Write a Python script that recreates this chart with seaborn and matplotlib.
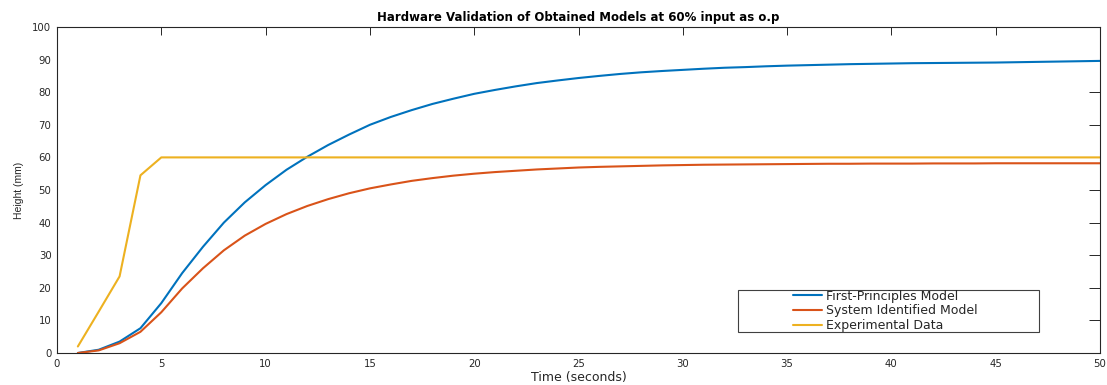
import numpy as np
import pandas as pd
import matplotlib
matplotlib.use("Agg")
import matplotlib.pyplot as plt
from matplotlib.patches import Rectangle
import seaborn as sns

time = list(range(1, 51))
first_principles = [0.0, 1.0, 3.5, 7.6, 15.3, 24.5, 32.6, 40.0, 46.2, 51.5,
                    56.2, 60.2, 63.8, 67.0, 70.0, 72.4, 74.5, 76.4, 78.0, 79.5,
                    80.7, 81.8, 82.8, 83.6, 84.35, 85.0, 85.6, 86.1, 86.5, 86.85,
                    87.2, 87.5, 87.7, 87.95, 88.15, 88.3, 88.45, 88.6, 88.7, 88.8,
                    88.9, 88.95, 89.0, 89.05, 89.1, 89.2, 89.3, 89.4, 89.5, 89.6]
system_identified = [0.0, 0.8, 3.0, 6.5, 12.5, 19.8, 26.0, 31.5, 36.0, 39.6,
                     42.6, 45.1, 47.2, 49.0, 50.5, 51.7, 52.8, 53.65, 54.4, 55.0,
                     55.5, 55.9, 56.3, 56.6, 56.9, 57.1, 57.25, 57.4, 57.55, 57.65,
                     57.75, 57.8, 57.85, 57.9, 57.95, 58.0, 58.05, 58.05, 58.1, 58.1,
                     58.1, 58.15, 58.15, 58.15, 58.2, 58.2, 58.2, 58.2, 58.2, 58.2]
experimental = [2.0, 12.7, 23.5, 54.5] + [60.0] * 46

labels = ["First-Principles Model", "System Identified Model", "Experimental Data"]
colors = ["#0072BD", "#D95319", "#EDB120"]

sns.set_style("white")
plt.rcParams["font.family"] = ["DejaVu Sans"]

fig = plt.figure(figsize=(11.07, 3.85), dpi=100)
ax = fig.add_axes([57/1107, 1-353/385, (1100-57)/1107, (353-27)/385])

for ys, lab, c in zip([first_principles, system_identified, experimental], labels, colors):
    sns.lineplot(x=time, y=ys, ax=ax, color=c, linewidth=1.5, label=lab)

ax.set_xlim(0, 50)
ax.set_ylim(0, 100)
ax.set_xticks(range(0, 51, 5))
ax.set_yticks(range(0, 101, 10))
ax.tick_params(direction="in", top=True, right=True, width=0.7,
               labelsize=7.3, colors="#262626", pad=4)
ax.tick_params(axis="x", length=6)
ax.tick_params(axis="y", length=8)
for s in ax.spines.values():
    s.set_visible(True)
    s.set_color("#262626")
    s.set_linewidth(0.8)

ax.set_xlabel("Time (seconds)", fontsize=9, color="#262626", labelpad=2)
ax.set_ylabel("Height (mm)", fontsize=7.5, color="#262626", labelpad=6,
              family="Liberation Sans")
ax.set_title("Hardware Validation of Obtained Models at 60% input as o.p",
             fontsize=8.5, fontweight="bold", color="#000000", pad=4)

leg = ax.legend(loc="center left", bbox_to_anchor=((793-57)/1043, 0.129), frameon=False,
                fontsize=9, handlelength=2.3, handletextpad=0.35, labelspacing=0.15,
                borderpad=0, borderaxespad=0)
ax.add_patch(Rectangle(((738-57)/1043, (353-332)/326), (1039-738)/1043, (332-290)/326,
                       transform=ax.transAxes, fill=True, facecolor="white",
                       edgecolor="#404040", linewidth=0.8, zorder=4))
leg.set_zorder(5)

fig.savefig("out.png", dpi=100)
